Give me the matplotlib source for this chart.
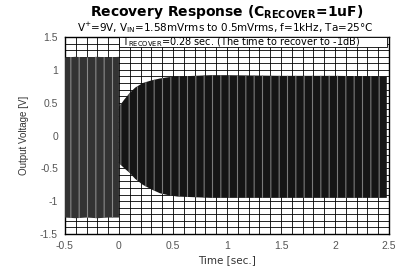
import matplotlib.pyplot as plt
from matplotlib.patches import Rectangle
from matplotlib.ticker import MultipleLocator

plt.rcParams.update(
    {
        "font.family": "sans-serif",
        "font.sans-serif": ["Liberation Sans", "DejaVu Sans"],
        "mathtext.fontset": "custom",
        "mathtext.rm": "DejaVu Sans",
        "mathtext.bf": "DejaVu Sans:bold",
        "hatch.linewidth": 0.8,
    }
)

# envelope of the 1 kHz output
t_before = [-0.5, -0.4, -0.3, -0.2, -0.1, 0.0]
up_before = [1.19, 1.20, 1.19, 1.20, 1.19, 1.20]
lo_before = [-1.25, -1.26, -1.25, -1.26, -1.25, -1.25]

t_after = [0.0, 0.05, 0.1, 0.15, 0.22, 0.3, 0.38, 0.46, 0.54, 0.7, 0.85, 1.0, 1.5, 2.0, 2.48]
up_after = [0.44, 0.55, 0.65, 0.73, 0.80, 0.84, 0.87, 0.89, 0.90, 0.91, 0.92, 0.92, 0.91, 0.91, 0.90]
lo_after = [-0.42, -0.50, -0.57, -0.66, -0.75, -0.82, -0.88, -0.91, -0.93, -0.94, -0.95, -0.95, -0.95, -0.95, -0.95]

x_ticks = [-0.5, 0, 0.5, 1, 1.5, 2, 2.5]
y_ticks = [-1.5, -1, -0.5, 0, 0.5, 1, 1.5]

fig = plt.figure(figsize=(4.01, 2.73), dpi=100)
ax = fig.add_axes([0.162, 0.143, 0.808, 0.721])

ax.fill_between(t_before, lo_before, up_before, facecolor="#333333", edgecolor="#8a8a8a",
                hatch="||", linewidth=0, zorder=3)
ax.fill_between(t_after, lo_after, up_after, facecolor="#151515", edgecolor="#7a7a7a",
                hatch="||", linewidth=0, zorder=3)

ax.set_xlim(-0.5, 2.5)
ax.set_ylim(-1.5, 1.5)
ax.set_xticks(x_ticks)
ax.set_yticks(y_ticks)
ax.set_xticklabels([f"{v:g}" for v in x_ticks])
ax.set_yticklabels([f"{v:g}" for v in y_ticks])
ax.xaxis.set_minor_locator(MultipleLocator(0.1))
ax.yaxis.set_minor_locator(MultipleLocator(0.1))
ax.grid(which="both", color="black", linewidth=0.6, zorder=1)
ax.set_axisbelow(True)
ax.tick_params(which="both", length=0, labelsize=7.5, labelcolor="#555555", pad=5)
for s in ax.spines.values():
    s.set_linewidth(1.0)

# annotation box across the top row
ax.add_patch(Rectangle((0.0, 1.35), 2.48, 0.15, facecolor="white", edgecolor="black",
                       linewidth=0.6, zorder=4))
ax.text(0.03, 1.422, r"T$_{\mathregular{RECOVER}}$=0.28 sec. (The time to recover to -1dB)",
        fontsize=7, va="center", ha="left", zorder=5, family="DejaVu Sans")

ax.set_xlabel("Time [sec.]", fontsize=7.5, color="#333333", labelpad=3, family="DejaVu Sans")
ax.set_ylabel("Output Voltage [V]", fontsize=7, color="#333333", labelpad=8)

fig.text(0.565, 0.955, r"Recovery Response (C$_{\mathregular{RECOVER}}$=1uF)",
         fontsize=10, fontweight="bold", ha="center", va="center", family="DejaVu Sans")
fig.text(0.562, 0.898, r"V$^{+}$=9V, V$_{\mathregular{IN}}$=1.58mVrms to 0.5mVrms, f=1kHz, Ta=25°C",
         fontsize=7.5, ha="center", va="center", family="DejaVu Sans")

fig.savefig("out.png", dpi=100)
